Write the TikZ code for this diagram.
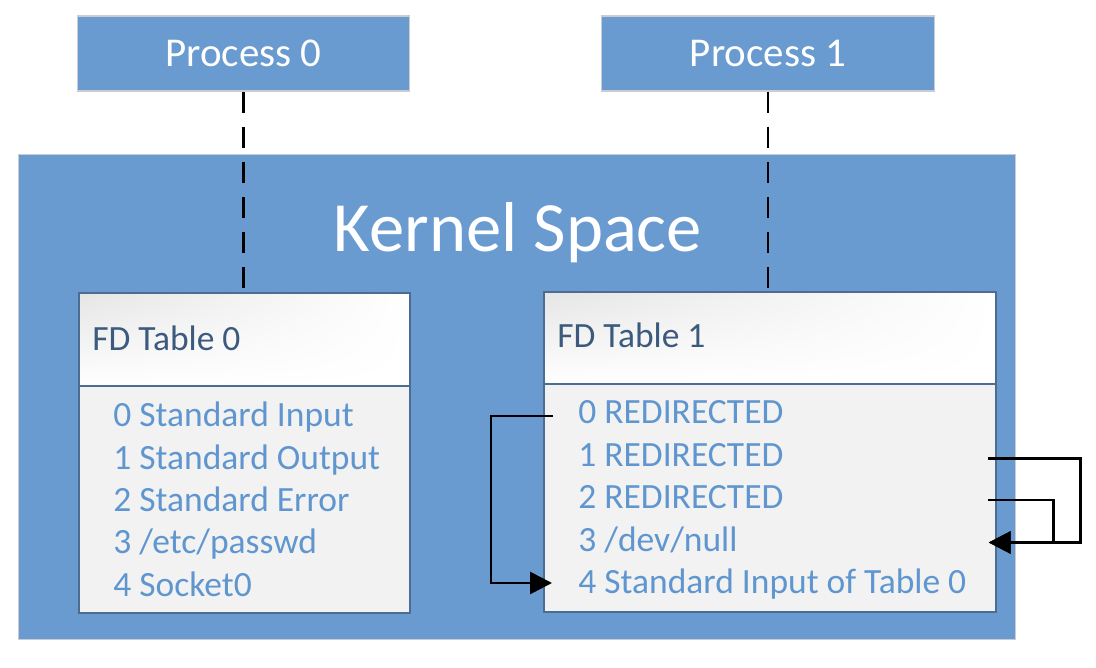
\documentclass[tikz,border=0pt]{standalone}
\usepackage{fontspec}
\setmainfont{Carlito}
\usetikzlibrary{arrows.meta,calc,positioning,shadings}
\definecolor{kblue}{HTML}{6A9BD0}
\definecolor{rowblue}{HTML}{5F96CF}
\definecolor{headink}{HTML}{3C5A7D}
\definecolor{tabedge}{HTML}{4C6C91}
\definecolor{boxedge}{HTML}{C9CDD2}
\definecolor{bodyfill}{HTML}{F2F2F2}
\tikzset{>={Triangle[length=12.5pt,width=12.5pt]},
  procbox/.style={draw=boxedge,fill=kblue,line width=.6pt,text=white,
    font=\fontsize{23.3}{28}\selectfont,minimum width=6.66cm,minimum height=1.5cm,inner sep=0pt},
  kernbox/.style={draw=boxedge,fill=kblue,line width=.6pt,inner sep=0pt},
  fdhead/.style={draw=tabedge,line width=.8pt,upper left=black!10,
    upper right=white,lower left=white,lower right=white,inner sep=0pt},
  fdbody/.style={draw=tabedge,line width=.8pt,fill=bodyfill,inner sep=0pt},
  headtext/.style={anchor=base west,inner sep=0pt,text=headink,font=\fontsize{20.2}{24}\selectfont},
  rowtext/.style={anchor=base west,inner sep=0pt,text=rowblue,font=\fontsize{20.2}{24}\selectfont},
  tether/.style={draw=black,line width=1.5pt,dash pattern=on 12pt off 8pt},
  link/.style={draw=black,line width=1.6pt}}
\begin{document}
\begin{tikzpicture}[x=0.02cm,y=-0.02cm]
\useasboundingbox (0,0) rectangle (1096,668);
% kernel area and processes
\node[kernbox,minimum width=19.96cm,minimum height=9.72cm] (kernel) at (517,397) {};
\node[anchor=base,inner sep=0pt,text=white,font=\fontsize{40.2}{48}\selectfont] (ktitle) at (518,252) {Kernel Space};
\node[procbox] (proc0) at (243.5,53.5) {Process 0};
\node[procbox] (proc1) at (768,53.5) {Process 1};
% fd tables
\node[fdhead,minimum width=6.62cm,minimum height=1.86cm] (fdhead0) at (244.5,339.5) {};
\node[fdbody,minimum width=6.62cm,minimum height=4.54cm] (fdbody0) at (244.5,499.5) {};
\node[fdhead,minimum width=9.04cm,minimum height=1.84cm] (fdhead1) at (770,338) {};
\node[fdbody,minimum width=9.04cm,minimum height=4.56cm] (fdbody1) at (770,498) {};
\draw[tether] (proc0.south) -- (proc0.south |- fdhead0.north);
\draw[tether] (proc1.south) -- (proc1.south |- fdhead1.north);
\node[headtext] (title0) at (92,351) {FD Table 0};
\node[headtext] (title1) at (557,348) {FD Table 1};
\foreach \i/\txt in {0/{Standard Input},1/{Standard Output},2/{Standard Error},3/{/etc/passwd},4/{Socket0}}
  \node[rowtext] (r0\i) at (113,{427+42.3*\i}) {\i\ \txt};
\foreach \i/\txt in {0/{REDIRECTED},1/{REDIRECTED},2/{REDIRECTED},3/{/dev/null},4/{Standard Input of Table 0}}
  \node[rowtext] (r1\i) at (578,{424+42.5*\i}) {\i\ \txt};
% redirections
\draw[link,->] ([shift={(-25,-8)}]r10.base west) -- ++(-62,0) |- ([shift={(-26,-11)}]r14.base west);
\draw[link,->] ($(r11.base -| fdbody1.east)+(-9,-8)$) -- ++(93,0) |- ($(r13.base -| fdbody1.east)+(-8,-9)$);
\draw[link,->] ($(r12.base -| fdbody1.east)+(-9,-9)$) -- ++(66,0) |- ($(r13.base -| fdbody1.east)+(-8,-9)$);
\end{tikzpicture}
\end{document}
